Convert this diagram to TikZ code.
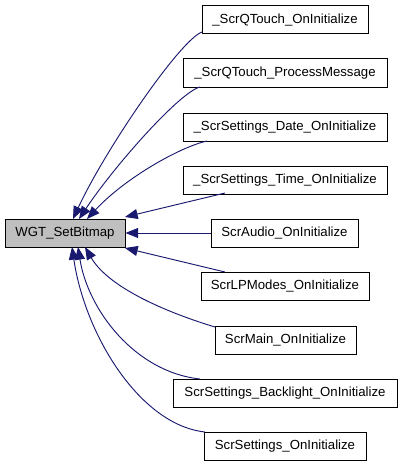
\documentclass[tikz,border=0pt]{standalone}
\usepackage{fontspec}
\setmainfont{Liberation Sans}
\usetikzlibrary{arrows.meta}
\definecolor{edgeblue}{RGB}{25,25,112}
\definecolor{mainfill}{RGB}{191,191,191}
\begin{document}
\begin{tikzpicture}[x=0.75pt,y=-0.75pt,
  box/.style={draw=black, line width=0.75pt, minimum height=21pt, inner sep=0pt,
    font=\fontsize{9.9pt}{11pt}\selectfont, fill=white},
  bw/.style={minimum width=#1*0.75pt},
  edge/.style={draw=edgeblue, line width=0.7pt, -{Triangle[length=9.5pt,width=7.5pt]}}]
\useasboundingbox (0,0) rectangle (403,467);
\fill[white] (0,0) rectangle (403,467);

\node[box, bw=120, fill=mainfill] (main) at (65,233) {WGT\_SetBitmap};
\node[box, bw=166] (b1) at (285,20) {\_ScrQTouch\_OnInitialize};
\node[box, bw=204] (b2) at (285,73) {\_ScrQTouch\_ProcessMessage};
\node[box, bw=204] (b3) at (285,127) {\_ScrSettings\_Date\_OnInitialize};
\node[box, bw=204] (b4) at (285,180) {\_ScrSettings\_Time\_OnInitialize};
\node[box, bw=147] (b5) at (284.5,233) {ScrAudio\_OnInitialize};
\node[box, bw=168] (b6) at (285,286) {ScrLPModes\_OnInitialize};
\node[box, bw=141] (b7) at (285.5,340) {ScrMain\_OnInitialize};
\node[box, bw=224] (b8) at (285,393) {ScrSettings\_Backlight\_OnInitialize};
\node[box, bw=162] (b9) at (285,446) {ScrSettings\_OnInitialize};

% tip points on the main box
\coordinate (t1) at (73,219);
\coordinate (t2) at (79,219);
\coordinate (t3) at (87,219);
\coordinate (t4) at (125,217);
\coordinate (t6) at (125,248);
\coordinate (t7) at (85,247);
\coordinate (t8) at (78,247);
\coordinate (t9) at (72,247);
% start points on the caller boxes
\coordinate (s1) at (202,32);
\coordinate (s2) at (200,87);
\coordinate (s3) at (207,141);
\coordinate (s4) at (225,193);
\coordinate (s6) at (225,272);
\coordinate (s7) at (215,327);
\coordinate (s8) at (200,379);
\coordinate (s9) at (205,432);

\draw[edge] (s1) .. controls (180,40) and (105,150) .. (t1);
\draw[edge] (s2) .. controls (180,92) and (115,165) .. (t2);
\draw[edge] (s3) .. controls (180,147) and (125,178) .. (t3);
\draw[edge] (s4) -- (t4);
\draw[edge] (b5.west) -- (main.east);
\draw[edge] (s6) -- (t6);
\draw[edge] (s7) .. controls (175,315) and (110,290) .. (t7);
\draw[edge] (s8) .. controls (135,372) and (88,310) .. (t8);
\draw[edge] (s9) .. controls (140,425) and (85,335) .. (t9);
\end{tikzpicture}
\end{document}
